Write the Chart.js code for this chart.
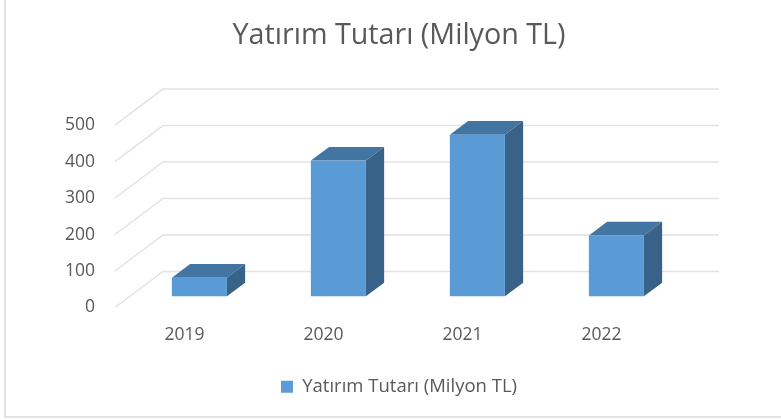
<!DOCTYPE html>
<html>
<head>
<meta charset="utf-8">
<style>
  html, body { margin: 0; padding: 0; background: #fff; overflow: hidden; }
  #frame { position: absolute; left: 4px; top: 0; width: 777px; height: 416px; border-left: 2px solid #e2e2e2; border-bottom: 2px solid #e2e2e2; box-sizing: content-box; }
  #yatirim { position: absolute; left: 0; top: 0; filter: blur(0.5px); }
</style>
</head>
<body>
<div id="frame"></div>
<canvas id="yatirim" width="781" height="420"></canvas>
<script src="https://cdn.jsdelivr.net/npm/chart.js@4"></script>
<script>
const categories = ['2019', '2020', '2021', '2022'];
const seriesName = 'Yatırım Tutarı (Milyon TL)';
const values = [51, 372, 443, 167];

// oblique 3d look: how far the back wall sits from the front plane
const wallX = 48;
const wallY = -36;
const barFront = 0.31;
const barBack = 0.69;

const fake3d = {
  id: 'fake3d',
  beforeDatasetsDraw(chart) {
    const { ctx, scales: { x, y } } = chart;
    const right = x.right;

    // walls
    ctx.save();
    ctx.strokeStyle = '#e2e2e2';
    ctx.lineWidth = 1.5;
    y.ticks.forEach(t => {
      const py = y.getPixelForValue(t.value);
      ctx.beginPath();
      ctx.moveTo(x.left, py);
      ctx.lineTo(x.left + wallX, py + wallY);
      ctx.lineTo(right + wallX, py + wallY);
      ctx.stroke();
    });

    // top and side of each bar
    const dx = (barBack - barFront) * wallX;
    const dy = (barBack - barFront) * wallY;
    chart.getDatasetMeta(0).data.forEach(bar => {
      const left = bar.x - bar.width / 2 + barFront * wallX;
      const rgt = bar.x + bar.width / 2 + barFront * wallX;
      const top = bar.y + barFront * wallY;
      const base = bar.base + barFront * wallY;

      ctx.fillStyle = '#4375a3';
      ctx.beginPath();
      ctx.moveTo(left, top);
      ctx.lineTo(left + dx, top + dy);
      ctx.lineTo(rgt + dx, top + dy);
      ctx.lineTo(rgt, top);
      ctx.closePath();
      ctx.fill();

      ctx.fillStyle = '#386288';
      ctx.beginPath();
      ctx.moveTo(rgt, top);
      ctx.lineTo(rgt + dx, top + dy);
      ctx.lineTo(rgt + dx, base + dy);
      ctx.lineTo(rgt, base);
      ctx.closePath();
      ctx.fill();
    });
    ctx.restore();

    // front faces go on the plane inside the depth
    ctx.save();
    ctx.translate(barFront * wallX, barFront * wallY);
  },
  afterDatasetsDraw(chart) {
    chart.ctx.restore();
  }
};

new Chart(document.getElementById('yatirim'), {
  type: 'bar',
  data: {
    labels: categories,
    datasets: [{
      label: seriesName,
      data: values,
      backgroundColor: '#5b9bd5',
      barPercentage: 0.396,
      categoryPercentage: 1,
      clip: false
    }]
  },
  options: {
    responsive: false,
    animation: false,
    layout: {
      // negative right pushes the title and legend centre right of the canvas centre
      padding: { left: 0, right: -17, top: 0, bottom: 14 }
    },
    plugins: {
      tooltip: { enabled: false },
      title: {
        display: true,
        text: seriesName,
        color: '#595959',
        font: { family: '"Open Sans"', size: 28.7, weight: 'normal' },
        padding: { top: 19, bottom: 71.6 }
      },
      legend: {
        display: true,
        position: 'bottom',
        labels: {
          color: '#595959',
          boxWidth: 12,
          boxHeight: 12,
          font: { family: '"Open Sans"', size: 18.5 },
          padding: 26
        }
      }
    },
    scales: {
      x: {
        afterFit(scale) { scale.height = 44; },
        grid: { display: false },
        border: { display: false },
        ticks: {
          color: '#595959',
          font: { family: '"Open Sans"', size: 17.5 },
          padding: 9,
          maxRotation: 0
        }
      },
      y: {
        min: 0,
        max: 500,
        afterFit(scale) { scale.width = 115; },
        grid: { display: false },
        border: { display: false },
        ticks: {
          stepSize: 100,
          color: '#595959',
          font: { family: '"Open Sans"', size: 17.5 },
          padding: 12
        }
      },
      // empty axis, only keeps the plot narrower than the title box
      spacer: {
        position: 'right',
        afterFit(scale) { scale.width = 127; },
        grid: { display: false },
        border: { display: false },
        ticks: { display: false }
      }
    }
  },
  plugins: [fake3d]
});
</script>
</body>
</html>
